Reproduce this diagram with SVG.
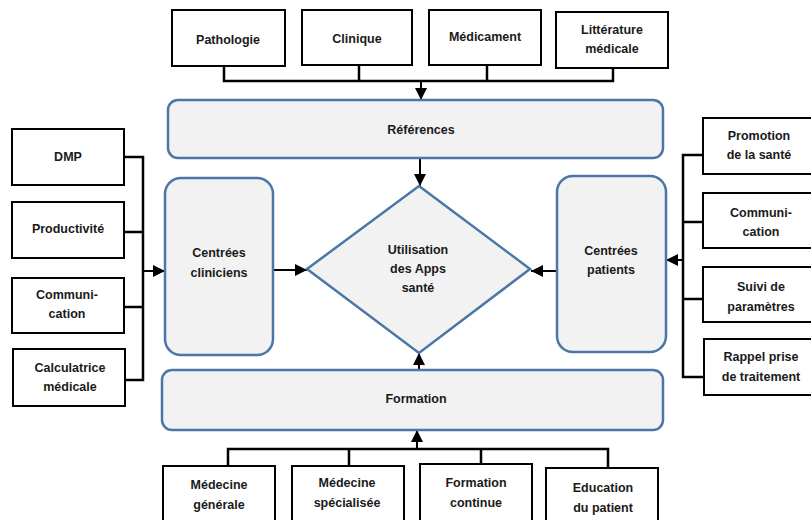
<svg xmlns="http://www.w3.org/2000/svg" width="811" height="520" viewBox="0 0 811 520">
<defs>
<marker id="arr" markerUnits="userSpaceOnUse" markerWidth="12" markerHeight="12" viewBox="0 0 10 10" refX="10" refY="5" orient="auto"><path d="M0,0 L10,5 L0,10 z" fill="#000"/></marker>
<style>
.box{fill:#fff;stroke:#000;stroke-width:2}
.rnd{fill:#f2f2f2;stroke:#4a77a6;stroke-width:2.5}
.ln{fill:none;stroke:#000;stroke-width:2.5}
.arw{fill:none;stroke:#000;stroke-width:2;marker-end:url(#arr)}
text{font-family:"Liberation Sans",Arial,sans-serif;font-weight:bold;font-size:12.5px;fill:#1a1a1a;text-anchor:middle;dominant-baseline:central}
</style>
</defs>
<rect width="811" height="520" fill="#fff"/>
<g id="connectors">
<path class="ln" d="M224,66 V81 H613 V68 M359,66 V81 M487,66 V81"/>
<line class="arw" x1="421" y1="81" x2="421" y2="100"/>
<line class="arw" x1="420" y1="158" x2="420" y2="186"/>
<path class="ln" d="M124,157 H143 V380 H125 M124,232 H143 M124,307 H143"/>
<line class="arw" x1="143" y1="271" x2="165" y2="271"/>
<line class="arw" x1="273" y1="270" x2="307" y2="270"/>
<path class="ln" d="M703,155 H683 V377 H704 M683,222 H703 M683,299 H703"/>
<line class="arw" x1="683" y1="260" x2="666" y2="260"/>
<line class="arw" x1="557" y1="271" x2="531" y2="271"/>
<line class="arw" x1="419" y1="370" x2="419" y2="353"/>
<path class="ln" d="M228,466 V449 H608 V467 M349,466 V449 M481,464 V449"/>
<line class="arw" x1="417" y1="449" x2="417" y2="430"/>
</g>
<g id="pathologie"><rect class="box" x="172" y="10" width="113" height="56"/><text x="228" y="40">Pathologie</text></g>
<g id="clinique"><rect class="box" x="302" y="10" width="110" height="55"/><text x="357" y="39">Clinique</text></g>
<g id="medicament"><rect class="box" x="429" y="10" width="112" height="55"/><text x="485" y="37">Médicament</text></g>
<g id="litterature"><rect class="box" x="556" y="12" width="112" height="56"/><text x="612" y="30">Littérature</text><text x="612" y="49">médicale</text></g>
<g id="references"><rect class="rnd" x="168" y="100" width="495" height="58" rx="10"/><text x="421" y="130">Références</text></g>
<g id="dmp"><rect class="box" x="12" y="129" width="112" height="56"/><text x="68" y="157">DMP</text></g>
<g id="productivite"><rect class="box" x="12" y="202" width="112" height="56"/><text x="68" y="229">Productivité</text></g>
<g id="communication-left"><rect class="box" x="12" y="278" width="112" height="55"/><text x="67" y="295">Communi-</text><text x="67" y="314">cation</text></g>
<g id="calculatrice"><rect class="box" x="13" y="349" width="112" height="57"/><text x="70" y="368">Calculatrice</text><text x="70" y="387">médicale</text></g>
<g id="centrees-cliniciens"><rect class="rnd" x="165" y="178" width="108" height="177" rx="16"/><text x="219" y="253">Centrées</text><text x="219" y="273">cliniciens</text></g>
<g id="utilisation"><polygon class="rnd" points="419,186 530,269 419,353 307,269"/><text x="418" y="250">Utilisation</text><text x="418" y="269">des Apps</text><text x="418" y="288">santé</text></g>
<g id="centrees-patients"><rect class="rnd" x="557" y="176" width="109" height="176" rx="16"/><text x="611" y="251">Centrées</text><text x="611" y="270">patients</text></g>
<g id="promotion"><rect class="box" x="703" y="118" width="114" height="56"/><text x="759" y="136">Promotion</text><text x="759" y="155">de la santé</text></g>
<g id="communication-right"><rect class="box" x="703" y="193" width="114" height="55"/><text x="761" y="213">Communi-</text><text x="761" y="232">cation</text></g>
<g id="suivi"><rect class="box" x="703" y="267" width="114" height="55"/><text x="761" y="287">Suivi de</text><text x="761" y="307">paramètres</text></g>
<g id="rappel"><rect class="box" x="704" y="339" width="114" height="56"/><text x="761" y="357">Rappel prise</text><text x="761" y="377">de traitement</text></g>
<g id="formation"><rect class="rnd" x="162" y="370" width="501" height="60" rx="10"/><text x="416" y="399">Formation</text></g>
<g id="medecine-generale"><rect class="box" x="163" y="466" width="112" height="64"/><text x="219" y="485">Médecine</text><text x="219" y="505">générale</text></g>
<g id="medecine-specialisee"><rect class="box" x="292" y="466" width="112" height="64"/><text x="347" y="483">Médecine</text><text x="347" y="503">spécialisée</text></g>
<g id="formation-continue"><rect class="box" x="420" y="464" width="112" height="66"/><text x="476" y="483">Formation</text><text x="476" y="503">continue</text></g>
<g id="education"><rect class="box" x="546" y="468" width="112" height="62"/><text x="603" y="488">Education</text><text x="603" y="508">du patient</text></g>
</svg>
